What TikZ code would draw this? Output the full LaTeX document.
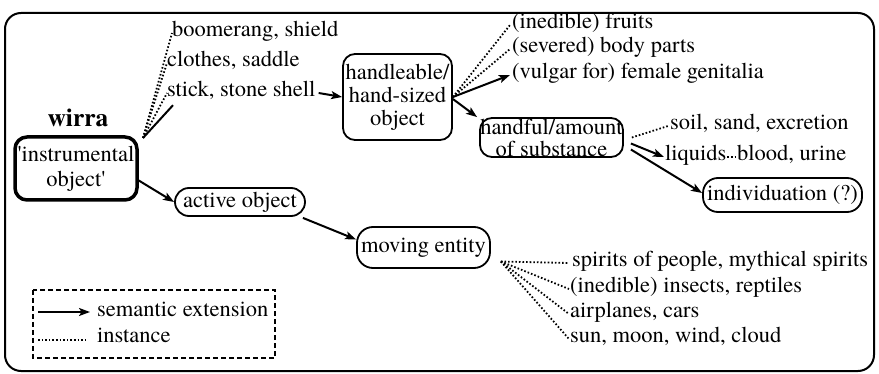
\documentclass[tikz,border=0pt]{standalone}
\usepackage{fontspec}
\setmainfont{texgyretermes}[Extension=.otf, UprightFont=*-regular, BoldFont=*-bold, ItalicFont=*-italic, BoldItalicFont=*-bolditalic]
\usetikzlibrary{arrows.meta,calc}
\begin{document}
\begin{tikzpicture}[x=1pt,y=-1pt,
  every node/.style={font=\fontsize{22.5}{23}\selectfont, inner sep=0pt},
  item/.style={anchor=west, text height=14pt, text depth=6pt},
  box/.style={draw, line width=1.8pt, rounded corners=12pt, align=center},
  ext/.style={-{Stealth[length=11pt,width=8pt,inset=2.5pt]}, line width=2pt},
  inst/.style={line width=1.8pt, dash pattern=on 1.6pt off 2pt},
  ]
\useasboundingbox (0,0) rectangle (879,374);
\draw[line width=2pt, rounded corners=16pt] (5,13) rectangle (874,371);

% main concept
\node[font=\fontsize{25.5}{28}\selectfont\bfseries] (wirra) at (78,118) {wirra};
\node[box, line width=3.5pt, minimum width=122pt, minimum height=63pt, font=\fontsize{22.5}{25}\selectfont] (instr) at (76,168.5) {\textquotesingle instrumental\\object\textquotesingle};

% instances of instrumental object
\node[item] (boom) at (172,33) {boomerang, shield};
\node[item] (clothes) at (167,63) {clothes, saddle};
\node[item] (stick) at (167,93) {stick, stone shell};
\coordinate (ic) at (143,138);
\draw[inst] (ic) -- (boom.west);
\draw[inst] (ic) -- (clothes.west);
\draw[inst] (ic) -- (stick.west);
\draw[line width=2pt] (ic) -- ([xshift=6pt,yshift=-2pt]stick.south west);

% handleable
\node[box, minimum width=109pt, minimum height=86pt] (handle) at (397.5,97) {handleable/\\hand-sized\\object};
\draw[ext] ([xshift=3pt]stick.east) -- (handle.west);

\node[item] (fruits) at (512,25) {(inedible) fruits};
\node[item] (body) at (512,49) {(severed) body parts};
\node[item] (vulgar) at (512,75) {(vulgar for) female genitalia};
\draw[inst] (handle.east) -- ([xshift=-2pt]fruits.west);
\draw[inst] (handle.east) -- ([xshift=-2pt]body.west);
\draw[ext] (handle.east) -- ([xshift=-2pt]vulgar.west);

% handful
\node[box, minimum width=143pt, minimum height=39pt, font=\fontsize{22.5}{22}\selectfont] (handful) at (551.5,137.5) {handful/amount\\of substance};
\draw[ext] ([yshift=-2pt]handle.east) -- ([xshift=-2pt]handful.north west);

\node[item] (soil) at (670,126) {soil, sand, excretion};
\node[item] (liquids) at (665,157) {liquids};
\node[item] (blood) at (737,157) {blood, urine};
\draw[inst] ([xshift=8pt]handful.east) -- ([xshift=-2pt]soil.west);
\draw[ext] ([xshift=7pt,yshift=-6pt]handful.east) -- ([xshift=-1pt]liquids.west);
\draw[inst] ([xshift=1pt]liquids.east) -- ([xshift=-2pt]blood.west);

\node[box, minimum width=159pt, minimum height=34pt, rounded corners=15pt] (indiv) at (782.5,195) {individuation (?)};
\draw[ext] ([xshift=7pt,yshift=-12pt]handful.east) -- ([yshift=2pt]indiv.west);

% active object
\node[box, minimum width=130pt, minimum height=28pt, rounded corners=14pt] (active) at (240,202) {active object};
\draw[ext] ([yshift=-12pt]instr.east) -- (active.west);

\node[box, minimum width=133pt, minimum height=41pt, rounded corners=16pt] (moving) at (423.5,247.5) {moving entity};
\draw[ext] ([xshift=-3pt,yshift=-1pt]active.south east) -- ([yshift=8pt]moving.west);

\node[item] (spirits) at (572,263) {spirits of people, mythical spirits};
\node[item] (insects) at (570,289) {(inedible) insects, reptiles};
\node[item] (planes) at (570,314) {airplanes, cars};
\node[item] (sun) at (570,339) {sun, moon, wind, cloud};
\coordinate (mv) at ([xshift=10pt,yshift=-14pt]moving.east);
\draw[inst] (mv) -- ([xshift=-3pt]spirits.west);
\draw[inst] (mv) -- ([xshift=-1pt]insects.west);
\draw[inst] (mv) -- ([xshift=-1pt]planes.west);
\draw[inst] (mv) -- ([xshift=-1pt]sun.west);

% legend
\draw[line width=1.5pt, dash pattern=on 5pt off 3pt] (33,290) rectangle (275,358);
\coordinate (la1) at (38,312);
\coordinate (la2) at (90,312);
\coordinate (ld1) at (38,340);
\coordinate (ld2) at (87,340);
\draw[ext] (la1) -- (la2);
\draw[inst] (ld1) -- (ld2);
\node[item] (lsem) at (97,313) {semantic extension};
\node[item] (linst) at (97,339) {instance};
\end{tikzpicture}
\end{document}
